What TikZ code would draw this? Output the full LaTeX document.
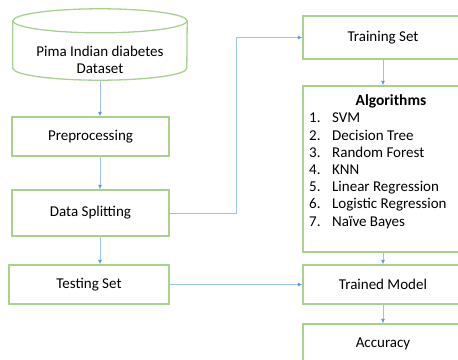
\documentclass[tikz,border=0pt]{standalone}
\usepackage{fontspec}
\setmainfont{Carlito}
\usetikzlibrary{arrows.meta}
\definecolor{boxgreen}{HTML}{A9D18E}
\definecolor{lineblue}{HTML}{9DC3E6}
\definecolor{tipblue}{HTML}{5B9BD5}
\begin{document}
\begin{tikzpicture}[x=1pt,y=-1pt,
  every node/.style={font=\fontsize{15}{17.2}\selectfont},
  stagebox/.style={draw=boxgreen, line width=1.3pt, rectangle, inner sep=0pt},
  flow/.style={draw=lineblue, line width=1pt, -{Latex[length=4.5pt,width=4pt,color=tipblue]}}]
\useasboundingbox (0,0) rectangle (458,359);
\clip (0,0) rectangle (458,359);
%Dataset%
\node[minimum width=174pt, minimum height=71pt, inner sep=0pt] (db) at (100,44.5) {};
\draw[boxgreen, line width=1.3pt] ([yshift=-12pt]db.north) ellipse [x radius=87, y radius=12];
\draw[boxgreen, line width=1.3pt] ([yshift=-12pt]db.north west) -- ([yshift=12pt]db.south west)
  arc[start angle=180, end angle=0, x radius=87, y radius=12] -- ([yshift=-12pt]db.north east);
\node[align=center] (dbtext) at (100,60) {Pima Indian diabetes\\Dataset};
%Left column%
\node[stagebox, minimum width=157pt, minimum height=39pt] (prep) at (90.5,136.5) {Preprocessing};
\node[stagebox, minimum width=157pt, minimum height=46pt] (split) at (90.5,213) {Data Splitting};
\node[stagebox, minimum width=160pt, minimum height=39pt] (test) at (89,284.5) {Testing Set};
%Right column%
\node[stagebox, minimum width=160pt, minimum height=43pt] (train) at (383,37.5) {Training Set};
\node[stagebox, minimum width=160pt, minimum height=166pt] (algo) at (383,169) {};
\node (algotitle) at (391,101) {\fontsize{15.5}{17.2}\selectfont\bfseries Algorithms};
\node[anchor=north west, align=left, inner sep=0pt] (algolist) at (309,113)
  {\makebox[23pt][l]{1.}SVM\\
   \makebox[23pt][l]{2.}Decision Tree\\
   \makebox[23pt][l]{3.}Random Forest\\
   \makebox[23pt][l]{4.}KNN\\
   \makebox[23pt][l]{5.}Linear Regression\\
   \makebox[23pt][l]{6.}Logistic Regression\\
   \makebox[23pt][l]{7.}Na\"ive Bayes};
\node[stagebox, minimum width=160pt, minimum height=39pt] (model) at (383,284.5) {Trained Model};
\node[stagebox, minimum width=160pt, minimum height=40pt] (acc) at (383,344) {Accuracy};
%Arrows%
\draw[flow] (db.south) -- (db.south |- prep.north);
\draw[flow] (db.south |- prep.south) -- (db.south |- split.north);
\draw[flow] (db.south |- split.south) -- (db.south |- test.north);
\coordinate (bend) at (236,213);
\draw[flow] (split.east) -- (bend) |- (train.west);
\draw[flow] (train) -- (algo);
\draw[flow] (algo) -- (model);
\draw[flow] (test) -- (model);
\draw[flow] (model) -- (acc);
\end{tikzpicture}
\end{document}
